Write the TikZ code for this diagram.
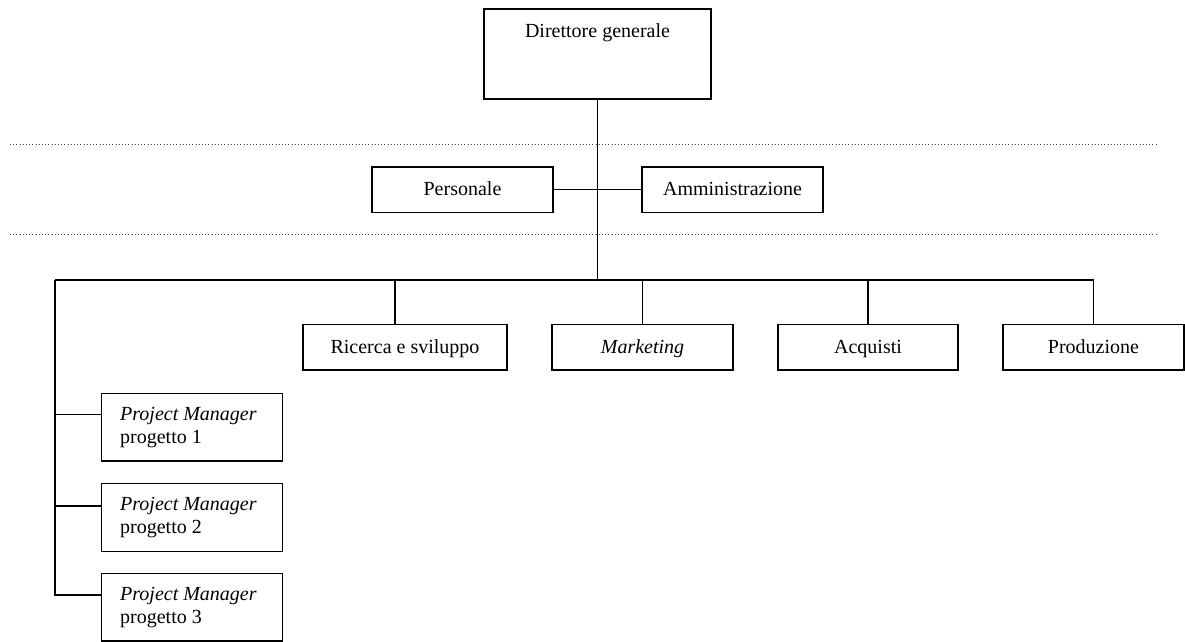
\documentclass[tikz,border=0pt]{standalone}
\usepackage{fontspec}
\setmainfont{Liberation Serif}
\usetikzlibrary{calc}
\begin{document}
\begin{tikzpicture}[x=1pt,y=-1pt,
  box/.style={draw, line width=1.5pt, inner sep=0pt, minimum width=181pt,
    minimum height=45.5pt, text height=12pt, text depth=0pt},
  pmbox/.style={draw, line width=1.5pt, inner sep=0pt, minimum width=181pt,
    minimum height=67.5pt, anchor=north west},
  pmtext/.style={anchor=base west, inner sep=0pt},
  conn/.style={line width=1.3pt},
  stem/.style={line width=1pt},
  rule/.style={line width=1pt, black!75, dash pattern=on 1pt off 2.2pt}]
\fontsize{20pt}{23pt}\selectfont
\useasboundingbox (0,0) rectangle (1185,641);

% top management
\node[box, minimum width=227pt, minimum height=90pt,
      text height=28.5pt, text depth=61.5pt] (dg) at (597.5,54) {Direttore generale};

% staff level between the dotted rules
\coordinate (r1a) at (10,144.3);  \coordinate (r1b) at (1158,144.3);
\coordinate (r2a) at (10,234);    \coordinate (r2b) at (1158,234);
\draw[rule] (r1a) -- (r1b);
\draw[rule] (r2a) -- (r2b);
\node[box] (pers) at (462.5,189.5) {Personale};
\node[box] (amm)  at (732.5,189.5) {Amministrazione};

% functional departments
\node[box, minimum width=204pt] (rs) at (405,347.25) {Ricerca e sviluppo};
\node[box] (mk) at (642.5,347.25) {\textit{Marketing}};
\node[box, minimum width=180pt] (aq) at (868,347.25) {Acquisti};
\node[box] (pd) at (1093.5,347.25) {Produzione};

% project managers
\node[pmbox] (pm1) at (100.7,392.5) {};
\node[pmbox, minimum height=68pt] (pm2) at (100.7,482.7) {};
\node[pmbox] (pm3) at (100.7,572.5) {};
\foreach \p/\n in {pm1/1,pm2/2,pm3/3}{
  \node[pmtext] (\p a) at ($(\p.north west)+(19.3,28)$) {\textit{Project Manager}};
  \node[pmtext] (\p b) at ($(\p.north west)+(19.3,51)$) {progetto \n};
}

% connectors
\coordinate (bus) at (597,280);
\coordinate (spine) at (55,280);
\coordinate (rsin) at ($(rs.north)+(-10,0)$);
\coordinate (pm1in) at ($(pm1.north west)+(0,22)$);
\coordinate (pm2in) at ($(pm2.north west)+(0,23.3)$);
\coordinate (pm3in) at ($(pm3.north west)+(0,22.5)$);

\draw[stem] (dg.south -| bus) -- (bus);
\draw[conn] (pers.east) -- (amm.west);
\draw[conn] (spine) -- (pd.north |- spine) -- (pd.north);
\draw[conn] (rsin |- spine) -- (rsin);
\draw[conn] (mk.north |- spine) -- (mk.north);
\draw[conn] (aq.north |- spine) -- (aq.north);
\draw[conn] (spine) |- (pm3in);
\draw[conn] (pm1in -| spine) -- (pm1in);
\draw[conn] (pm2in -| spine) -- (pm2in);
\end{tikzpicture}
\end{document}
